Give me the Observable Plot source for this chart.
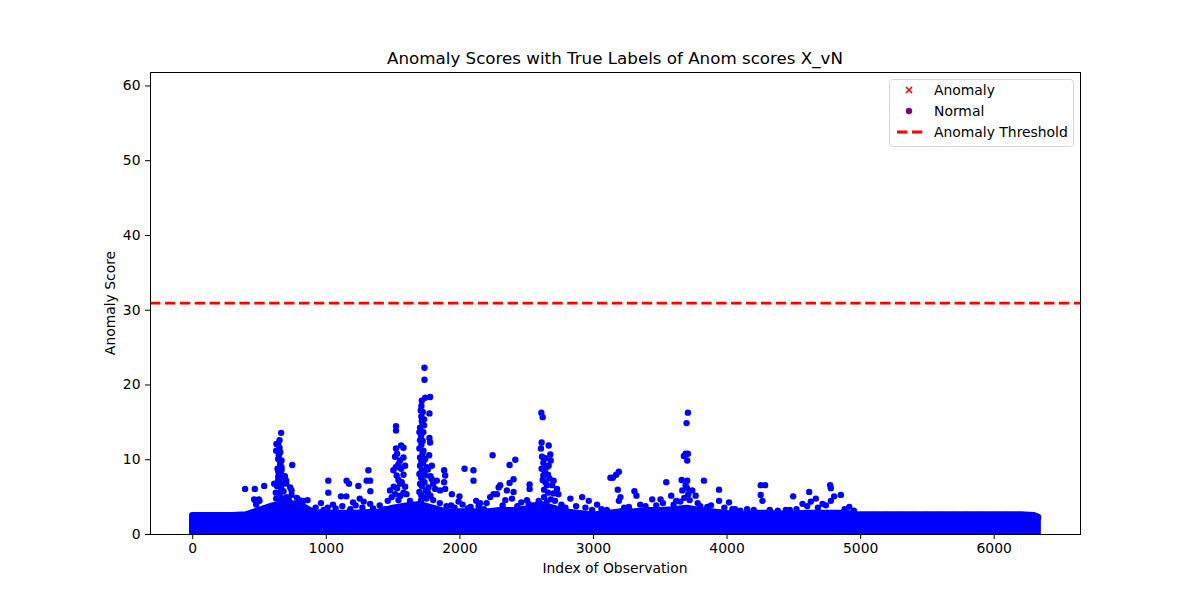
<!DOCTYPE html>
<html><head><meta charset="utf-8">
<script src="https://cdn.jsdelivr.net/npm/d3@7"></script>
<script src="https://cdn.jsdelivr.net/npm/@observablehq/plot@0.6"></script>
<style>
body{margin:0;background:#fff;}
#wrap{position:relative;width:1200px;height:600px;font-family:"DejaVu Sans",sans-serif;color:#000;}
#wrap svg{position:absolute;left:0;top:0;}
.lbl{position:absolute;white-space:nowrap;}
#title{left:150px;width:930px;top:48px;text-align:center;font-size:16.7px;}
#xlab{left:150px;width:930px;top:560px;text-align:center;font-size:13.9px;}
#ylab{left:110px;top:303px;font-size:13.9px;transform:translate(-50%,-50%) rotate(-90deg);}
</style></head><body><div id="wrap"></div>
<script>
// Dense band of normal observations: upper envelope of the scores per bin of indices
const bandIdx = [0,100,200,300,400,500,600,700,800,900,1000,1100,1200,1300,1400,1500,1600,1700,1800,1900,2000,2100,2200,2300,2400,2500,2600,2700,2800,2900,3000,3100,3200,3300,3400,3500,3600,3700,3800,3900,4000,4100,4200,4300,4400,4500,4600,4700,4800,4900,5000,5100,5200,5300,5400,5500,5600,5700,5800,5900,6000,6100,6200,6300,6329];
const bandTop = [2.5,2.5,2.5,2.5,2.6,3.2,3.8,4.2,4.0,3.0,2.8,2.8,2.8,2.9,3.0,3.5,3.8,4.0,3.5,3.0,3.0,3.0,3.0,3.2,3.2,3.4,4.0,3.5,3.0,2.8,2.6,2.8,3.0,3.0,3.2,3.2,3.3,3.5,3.2,3.0,2.8,2.6,2.8,2.8,2.7,2.7,2.8,2.8,2.8,2.8,2.6,2.6,2.6,2.6,2.6,2.6,2.6,2.6,2.6,2.6,2.6,2.6,2.6,2.5,2.3];

// Individual higher scores
const outIdx = [392,465,535,460,495,475,465,500,
 662,640,650,627,625,655,640,665,635,665,652,665,645,640,700,730,745,640,675,690,610,700,740,622,660,625,740,800,860,780,830,
 650,645,655,640,660,650,630,670,655,680,700,720,690,660,
 1015,1015,1152,1170,1110,1150,1240,1302,1315,1330,1250,1328,1328,1200,1050,1280,960,1010,
 1522,1522,1522,1560,1578,1530,1578,1552,1590,1502,1527,1578,1552,1477,1515,1578,1627,1650,1460,
 1515,1540,1520,1560,1540,1565,1505,1530,1555,1590,1600,1490,1540,
 1735,1735,1777,1715,1740,1707,1772,1715,1732,1702,1732,1697,1727,1772,1702,1777,1697,1727,1702,1740,1702,1752,1790,1697,1740,1790,1827,1702,1765,1815,1697,1727,
 1712,1722,1712,1720,1710,1722,1712,1720,1712,1725,1715,1730,1710,1735,1715,1745,1710,1760,1780,1800,1770,1760,1710,1750,1780,1800,
 1852,1940,1997,1882,1890,1882,1890,2035,2102,2102,2122,2080,2227,2245,2290,2277,1935,1990,
 2610,2620,2612,2665,2607,2677,2680,2665,2612,2637,2625,2702,2652,2727,2737,2712,2402,2372,2415,2372,2522,2522,2302,2252,2352,2402,2390,2502,2590,2515,2827,2915,2965,3027,3127,2152,
 2615,2625,2640,2650,2660,2620,2640,2670,2690,2630,2660,2700,2630,2680,2600,2650,
 3707,3697,3690,3707,3677,3702,3145,3170,3190,3660,3702,3545,3827,3940,3182,3202,3190,3307,3322,3582,3440,3502,3665,3740,3765,3940,4015,3852,3265,
 3690,3700,3710,3680,3720,3650,
 4252,4285,4252,4265,4495,4615,4772,4777,4852,4665,4627,4565,4715,4802,4777,4915,4440,4470,4040,
 920,980,1070,1120,1180,1220,1270,1350,1400,1440,
 1850,1900,1960,2020,2060,2140,2180,2200,2320,2340,2430,2460,2550,2760,2790,2870,2940,2990,
 3060,3100,3230,3350,3390,3470,3520,3600,3620,3780,3800,3880,3980,
 4060,4100,4150,4200,4320,4380,4520,4600,4680,4740,4880,4950];
const outScore = [6.1,6.1,6.5,4.7,4.7,4.0,4.6,4.5,
 13.6,12.1,12.6,12.1,11.2,11.0,10.1,9.9,8.8,8.6,9.9,9.0,8.1,7.2,7.2,6.3,9.3,7.7,7.5,7.8,6.8,6.8,5.9,5.6,6.2,4.8,5.3,4.6,4.6,4.9,4.5,
 11.6,10.6,9.4,8.5,8.0,7.0,6.5,6.8,5.5,5.8,5.0,4.6,4.4,4.8,
 7.2,5.6,7.2,6.8,5.1,5.1,6.5,7.2,8.6,5.8,4.8,4.1,7.2,4.3,4.0,4.4,4.2,3.6,
 14.5,13.9,11.5,11.9,11.6,10.8,10.3,9.9,9.2,8.6,7.9,8.0,6.8,5.9,5.4,5.6,4.5,3.6,4.5,
 10.4,9.4,9.0,8.8,7.3,7.0,6.4,6.2,5.2,6.4,5.4,5.0,4.6,
 22.3,20.7,18.4,17.9,18.3,16.6,16.2,15.2,15.4,14.3,14.6,13.7,13.7,12.9,12.6,12.3,11.5,11.2,10.3,10.1,9.2,9.0,9.2,8.1,7.9,7.4,7.2,6.8,6.3,6.1,5.7,5.0,
 17.2,16.4,15.8,14.9,13.2,12.5,12.0,10.8,9.8,9.6,8.6,8.4,7.6,7.0,6.5,5.9,5.3,5.6,7.8,6.8,10.6,8.7,4.6,4.8,5.2,4.6,
 5.9,5.4,5.1,8.6,7.9,7.0,6.1,8.8,8.6,7.2,4.5,3.7,5.0,10.6,6.3,5.4,3.9,4.4,
 16.3,15.7,12.3,11.9,11.5,10.7,9.9,9.2,8.8,8.3,7.9,7.2,6.6,6.1,5.4,4.5,7.4,6.9,10.0,9.3,6.7,6.1,6.6,5.4,5.9,5.7,4.8,4.6,4.5,4.1,4.8,5.0,4.5,4.0,7.6,4.2,
 10.4,9.6,10.2,9.0,8.0,7.3,7.0,7.5,6.6,6.0,5.6,5.5,5.0,4.7,4.2,4.4,
 16.3,14.9,10.8,10.8,10.5,9.9,7.6,8.0,8.4,7.3,7.2,7.0,7.2,6.0,6.0,5.0,4.5,5.8,5.2,5.2,4.7,4.7,5.9,5.9,5.2,4.5,4.3,3.7,3.7,
 6.6,6.2,5.4,4.9,4.6,4.4,
 6.6,6.6,5.3,4.5,5.1,5.7,6.6,6.2,5.3,4.8,4.4,4.1,4.1,5.1,4.5,3.7,3.3,3.3,3.4,
 3.6,3.3,3.5,3.8,3.4,3.9,3.6,3.5,3.9,3.4,
 4.2,3.8,3.6,4.0,3.5,3.8,3.4,4.2,3.9,4.6,3.8,4.3,3.9,4.0,3.6,3.8,3.6,3.3,
 3.4,3.3,3.6,4.0,3.8,3.9,4.2,4.0,4.5,4.2,3.8,3.9,3.6,
 3.4,3.2,3.4,3.3,3.3,3.2,3.4,3.8,3.6,3.9,3.4,3.2];

const threshold = 30.95;
const xTicks = [0,1000,2000,3000,4000,5000,6000];
const yTicks = [0,10,20,30,40,50,60];
const xDomain = [-316,6646];
const yDomain = [0,61.8];

const band = bandIdx.map((i,k)=>({i, s: bandTop[k]}));
const outliers = outIdx.map((i,k)=>({i, s: outScore[k]}));
const BLUE = "#0000ff";

const chart = Plot.plot({
  width:1200, height:600,
  marginLeft:150, marginRight:120, marginTop:72, marginBottom:66,
  style:{fontFamily:"DejaVu Sans, sans-serif", fontSize:"13.9px", color:"#000", background:"transparent", overflow:"visible"},
  x:{domain:xDomain, ticks:xTicks, tickSize:5, tickPadding:4, label:null, tickFormat:d=>String(d)},
  y:{domain:yDomain, ticks:yTicks, tickSize:5, tickPadding:5, label:null},
  marks:[
    Plot.areaY(band, {x:"i", y:"s", fill:BLUE, stroke:BLUE, strokeWidth:6.4, strokeLinejoin:"round", strokeLinecap:"round", clip:true}),
    Plot.dot(band, {x:"i", y:"s", r:3.2, fill:BLUE, clip:true}),
    Plot.dot(outliers, {x:"i", y:"s", r:3.2, fill:BLUE, clip:true}),
    Plot.ruleY([threshold], {stroke:"red", strokeWidth:2.8, strokeDasharray:"10.4,4.5"}),
    Plot.frame({stroke:"#000", strokeWidth:1})
  ]
});
const wrap = document.getElementById("wrap");
wrap.appendChild(chart);

function addLabel(id, text){const d=document.createElement("div");d.id=id;d.className="lbl";d.textContent=text;wrap.appendChild(d);}
addLabel("title","Anomaly Scores with True Labels of Anom scores X_vN");
addLabel("xlab","Index of Observation");
addLabel("ylab","Anomaly Score");

// Legend
const legendItems = ["Anomaly","Normal","Anomaly Threshold"];
const ns="http://www.w3.org/2000/svg";
const lg=document.createElementNS(ns,"svg");
lg.setAttribute("width","186");lg.setAttribute("height","70");
lg.style.position="absolute";lg.style.left="889px";lg.style.top="79px";
lg.innerHTML = `
<rect x="0.5" y="0.5" width="184" height="67" rx="3" fill="rgba(255,255,255,0.8)" stroke="#d6d6d6"/>
<g stroke="red" stroke-width="1.6"><line x1="17" y1="8" x2="23" y2="14"/><line x1="23" y1="8" x2="17" y2="14"/></g>
<circle cx="20" cy="32" r="3.2" fill="purple"/>
<line x1="8" y1="53" x2="36" y2="53" stroke="red" stroke-width="2.8" stroke-dasharray="10.4,4.5"/>
<g font-family="DejaVu Sans, sans-serif" font-size="13.9" fill="#000">
<text x="45" y="16">${legendItems[0]}</text>
<text x="45" y="37">${legendItems[1]}</text>
<text x="45" y="58">${legendItems[2]}</text>
</g>`;
wrap.appendChild(lg);
</script>
</body></html>
